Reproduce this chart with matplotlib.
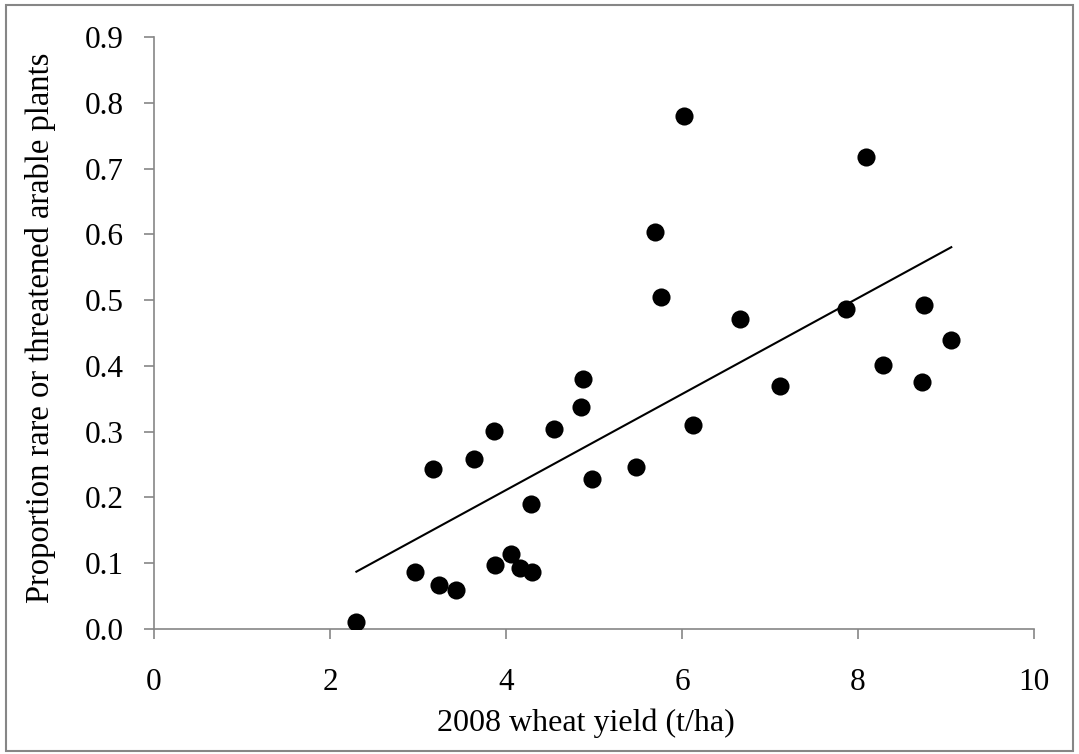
import matplotlib
matplotlib.use("Agg")
import matplotlib.pyplot as plt
from matplotlib.patches import Rectangle
import numpy as np

yield_t_ha = [2.30, 2.97, 3.24, 3.43, 3.17, 3.64, 3.86, 3.88, 4.06, 4.16, 4.30, 4.28,
              4.54, 4.85, 4.87, 4.98, 5.48, 6.02, 5.69, 5.76, 6.66, 7.11, 6.12, 8.09,
              7.86, 8.75, 9.06, 8.28, 8.73]
prop_rare = [0.010, 0.086, 0.067, 0.060, 0.243, 0.259, 0.301, 0.098, 0.114, 0.092, 0.086, 0.190,
             0.304, 0.338, 0.380, 0.228, 0.247, 0.780, 0.603, 0.505, 0.471, 0.370, 0.310, 0.717,
             0.486, 0.493, 0.439, 0.401, 0.376]
x_ticks = [0, 2, 4, 6, 8, 10]
y_ticks = [0.0, 0.1, 0.2, 0.3, 0.4, 0.5, 0.6, 0.7, 0.8, 0.9]

plt.rcParams['font.family'] = ['Liberation Serif', 'DejaVu Serif']

fig = plt.figure(figsize=(10.79, 7.54), dpi=100)
ax = fig.add_axes([0.1427, 0.1658, 0.8156, 0.7851])

x = np.array(yield_t_ha)
y = np.array(prop_rare)
ax.scatter(x, y, s=170, color='black', zorder=3, linewidths=0)

m, b = np.polyfit(x, y, 1)
xs = np.array([x.min(), x.max()])
ax.plot(xs, m * xs + b, color='black', lw=1.5, zorder=2)

ax.set_xlim(0, 10)
ax.set_ylim(0, 0.9)
ax.set_xticks(x_ticks)
ax.set_xticklabels([str(v) for v in x_ticks])
ax.set_yticks(y_ticks)
ax.set_yticklabels([f"{v:.1f}" for v in y_ticks])

gray = '#868686'
for s in ['top', 'right']:
    ax.spines[s].set_visible(False)
for s in ['left', 'bottom']:
    ax.spines[s].set_color(gray)
    ax.spines[s].set_linewidth(1.2)
ax.tick_params(axis='both', direction='out', color=gray, width=1.2, length=7,
               labelsize=22.5, labelcolor='black')
ax.tick_params(axis='x', pad=21)
ax.tick_params(axis='y', pad=15)

ax.set_xlabel('2008 wheat yield (t/ha)', fontsize=23)
ax.xaxis.set_label_coords(0.491, -0.160)
ax.xaxis.label.set_va('center')
ax.set_ylabel('Proportion rare or threatened arable plants', fontsize=23.5)
ax.yaxis.set_label_coords(-0.1295, 0.508)
ax.yaxis.label.set_va('center')

fig.patches.append(Rectangle((0.006, 0.004), 0.988, 0.99, transform=fig.transFigure,
                             fill=False, edgecolor=gray, linewidth=1.5))

fig.savefig('out.png', dpi=100)
